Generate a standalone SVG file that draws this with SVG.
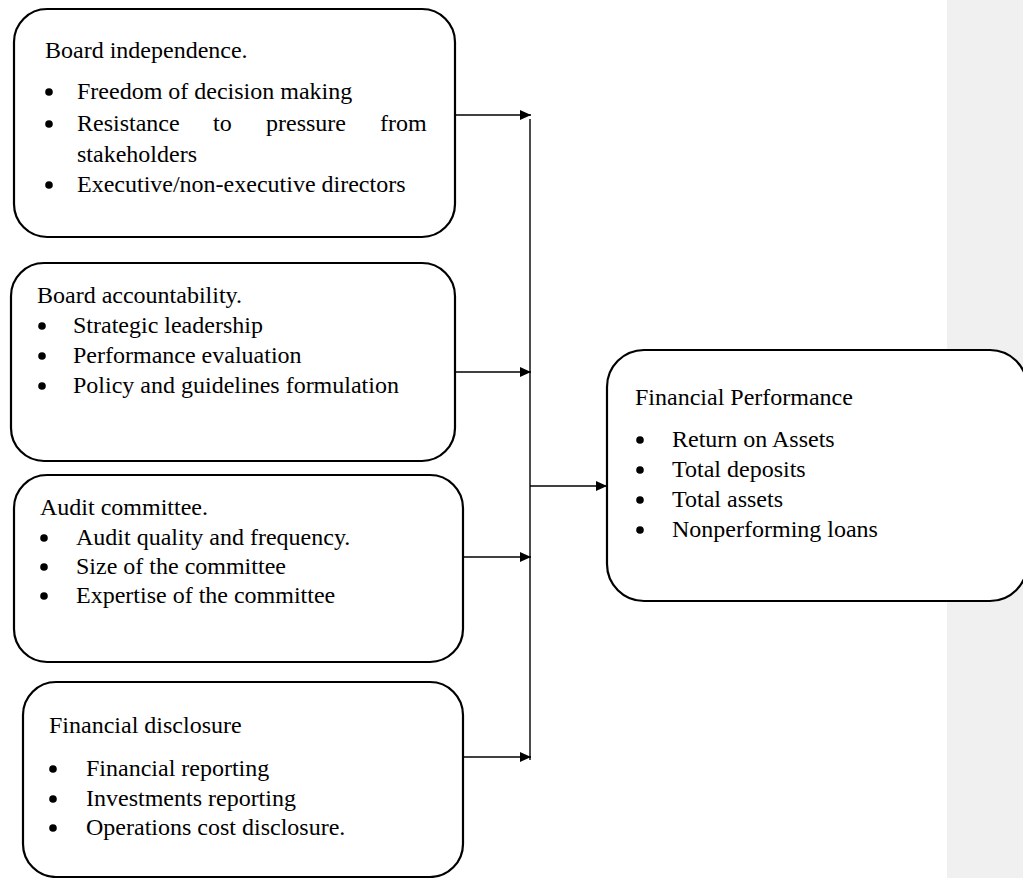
<svg xmlns="http://www.w3.org/2000/svg" width="1023" height="878" viewBox="0 0 1023 878">
<style>
.box{fill:#fff;stroke:#000;stroke-width:2.2}
.t{font-family:"Liberation Serif","Times New Roman",serif;font-size:24px;fill:#000}
.b{fill:#000}
.c{stroke:#000;stroke-width:1.4;fill:none}
</style>
<defs>
<marker id="ah" markerUnits="userSpaceOnUse" markerWidth="12" markerHeight="12" refX="11" refY="5" orient="auto">
<path d="M0,0 L11,5 L0,10 Z" fill="#000"/>
</marker>
</defs>
<rect x="947" y="0" width="76" height="878" fill="#f0f0f0"/>
<g id="board-independence">
<rect class="box" x="14" y="9" width="441" height="228" rx="33"/>
<text class="t" x="45" y="58">Board independence.</text>
<circle class="b" cx="49" cy="92" r="3.8"/>
<text class="t" x="77" y="99">Freedom of decision making</text>
<circle class="b" cx="49" cy="124" r="3.8"/>
<text class="t" y="131"><tspan x="77">Resistance</tspan><tspan x="213">to</tspan><tspan x="266">pressure</tspan><tspan x="380">from</tspan></text>
<text class="t" x="77" y="162">stakeholders</text>
<circle class="b" cx="49" cy="185" r="3.8"/>
<text class="t" x="77" y="192">Executive/non-executive directors</text>
</g>
<g id="board-accountability">
<rect class="box" x="11" y="263" width="444" height="198" rx="33"/>
<text class="t" x="37" y="303">Board accountability.</text>
<circle class="b" cx="42" cy="326" r="3.8"/>
<text class="t" x="73" y="333">Strategic leadership</text>
<circle class="b" cx="42" cy="356" r="3.8"/>
<text class="t" x="73" y="363">Performance evaluation</text>
<circle class="b" cx="42" cy="386" r="3.8"/>
<text class="t" x="73" y="393">Policy and guidelines formulation</text>
</g>
<g id="audit-committee">
<rect class="box" x="14" y="475" width="449" height="187" rx="33"/>
<text class="t" x="40" y="515">Audit committee.</text>
<circle class="b" cx="44" cy="538" r="3.8"/>
<text class="t" x="76" y="545">Audit quality and frequency.</text>
<circle class="b" cx="44" cy="567" r="3.8"/>
<text class="t" x="76" y="574">Size of the committee</text>
<circle class="b" cx="44" cy="596" r="3.8"/>
<text class="t" x="76" y="603">Expertise of the committee</text>
</g>
<g id="financial-disclosure">
<rect class="box" x="23" y="682" width="440" height="195" rx="33"/>
<text class="t" x="49" y="733">Financial disclosure</text>
<circle class="b" cx="53" cy="769" r="3.8"/>
<text class="t" x="86" y="776">Financial reporting</text>
<circle class="b" cx="53" cy="799" r="3.8"/>
<text class="t" x="86" y="806">Investments reporting</text>
<circle class="b" cx="53" cy="828" r="3.8"/>
<text class="t" x="86" y="835">Operations cost disclosure.</text>
</g>
<g id="financial-performance">
<rect class="box" x="607" y="350" width="420" height="251" rx="37"/>
<text class="t" x="635" y="405">Financial Performance</text>
<circle class="b" cx="640" cy="440" r="3.8"/>
<text class="t" x="672" y="447">Return on Assets</text>
<circle class="b" cx="640" cy="470" r="3.8"/>
<text class="t" x="672" y="477">Total deposits</text>
<circle class="b" cx="640" cy="500" r="3.8"/>
<text class="t" x="672" y="507">Total assets</text>
<circle class="b" cx="640" cy="530" r="3.8"/>
<text class="t" x="672" y="537">Nonperforming loans</text>
</g>
<g id="connectors">
<line class="c" x1="530" y1="119" x2="530" y2="760"/>
<line class="c" x1="455" y1="115" x2="531" y2="115" marker-end="url(#ah)"/>
<line class="c" x1="455" y1="372" x2="531" y2="372" marker-end="url(#ah)"/>
<line class="c" x1="463" y1="557" x2="531" y2="557" marker-end="url(#ah)"/>
<line class="c" x1="463" y1="757" x2="531" y2="757" marker-end="url(#ah)"/>
<line class="c" x1="530" y1="486" x2="607" y2="486" marker-end="url(#ah)"/>
</g>
</svg>
